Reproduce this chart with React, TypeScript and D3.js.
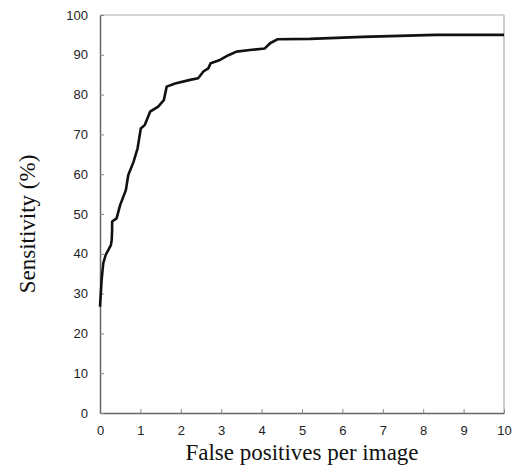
import React, { useRef, useEffect } from 'react';
import * as d3 from 'd3';

// ── Data ──────────────────────────────────────────────────────────────────────
const falsePositives = [
  0, 0.04, 0.08, 0.14, 0.27, 0.29, 0.30, 0.30, 0.41, 0.50, 0.64, 0.70, 0.83, 0.93,
  1.01, 1.11, 1.24, 1.44, 1.58, 1.65, 1.86, 2.23, 2.43, 2.56, 2.68, 2.74, 2.97,
  3.18, 3.38, 3.71, 4.08, 4.21, 4.39, 5.2, 6.5, 8.3, 10,
];
const sensitivity = [
  26.7, 33.4, 37.6, 39.7, 42.2, 43.5, 46.0, 48.1, 48.9, 52.3, 56.0, 59.8, 63.1, 66.5,
  71.5, 72.4, 75.7, 77.0, 78.6, 82.0, 82.8, 83.7, 84.1, 85.8, 86.6, 87.9, 88.7,
  89.9, 90.8, 91.2, 91.6, 92.9, 93.9, 94.0, 94.5, 95.0, 95.0,
];
const xTicks = [0, 1, 2, 3, 4, 5, 6, 7, 8, 9, 10];
const yTicks = [0, 10, 20, 30, 40, 50, 60, 70, 80, 90, 100];

const W = 519;
const H = 468;
const M = { top: 15, right: 15, bottom: 55, left: 100 };

export default function App() {
  const svgRef = useRef<SVGSVGElement>(null);

  useEffect(() => {
    if (!svgRef.current) return;
    const svg = d3.select(svgRef.current);
    svg.selectAll('*').remove();

    const innerW = W - M.left - M.right;
    const innerH = H - M.top - M.bottom;
    const x = d3.scaleLinear().domain([0, 10]).range([0, innerW]);
    const y = d3.scaleLinear().domain([0, 100]).range([innerH, 0]);

    const g = svg.append('g').attr('transform', `translate(${M.left},${M.top})`);

    // frame: light top/right, darker left/bottom
    g.append('line').attr('x1', 0).attr('x2', innerW).attr('y1', 0).attr('y2', 0)
      .attr('stroke', '#aaa').attr('stroke-width', 1.2);
    g.append('line').attr('x1', innerW).attr('x2', innerW).attr('y1', 0).attr('y2', innerH)
      .attr('stroke', '#aaa').attr('stroke-width', 1.2);

    const tickFont = '"Liberation Sans", Arial, sans-serif';

    // ── X Axis ──
    g.append('g')
      .attr('transform', `translate(0,${innerH})`)
      .call(d3.axisBottom(x).tickValues(xTicks).tickSize(-4).tickSizeOuter(0).tickPadding(13))
      .call(ax => ax.select('.domain').attr('stroke', '#666').attr('stroke-width', 1.5))
      .call(ax => ax.selectAll('.tick line').attr('stroke', '#888'))
      .call(ax => ax.selectAll('text')
        .attr('fill', '#222').attr('font-size', '13px').attr('font-family', tickFont));

    // ── Y Axis ──
    g.append('g')
      .call(d3.axisLeft(y).tickValues(yTicks).tickSize(-4).tickSizeOuter(0).tickPadding(12))
      .call(ax => ax.select('.domain').attr('stroke', '#666').attr('stroke-width', 1.5))
      .call(ax => ax.selectAll('.tick line').attr('stroke', '#888'))
      .call(ax => ax.selectAll('text')
        .attr('fill', '#222').attr('font-size', '13px').attr('font-family', tickFont));

    // ── Curve ──
    const pts: [number, number][] = falsePositives.map((v, i) => [v, sensitivity[i]]);
    const line = d3.line<[number, number]>().x(d => x(d[0])).y(d => y(d[1]));
    g.append('path').datum(pts)
      .attr('d', line)
      .attr('fill', 'none').attr('stroke', '#111').attr('stroke-width', 2.6)
      .attr('stroke-linejoin', 'round');

    // ── Titles ──
    const titleFont = '"Liberation Serif", "Times New Roman", serif';
    svg.append('text')
      .attr('x', 302).attr('y', 460)
      .attr('text-anchor', 'middle')
      .attr('font-family', titleFont).attr('font-size', '23px').attr('fill', '#111')
      .text('False positives per image');
    svg.append('text')
      .attr('transform', `translate(35,224) rotate(-90)`)
      .attr('text-anchor', 'middle')
      .attr('font-family', titleFont).attr('font-size', '23px').attr('fill', '#111')
      .text('Sensitivity (%)');
  }, []);

  return (
    <svg
      ref={svgRef}
      width={W}
      height={H}
      style={{ position: 'absolute', left: 0, top: 0, background: '#fff' }}
    />
  );
}
